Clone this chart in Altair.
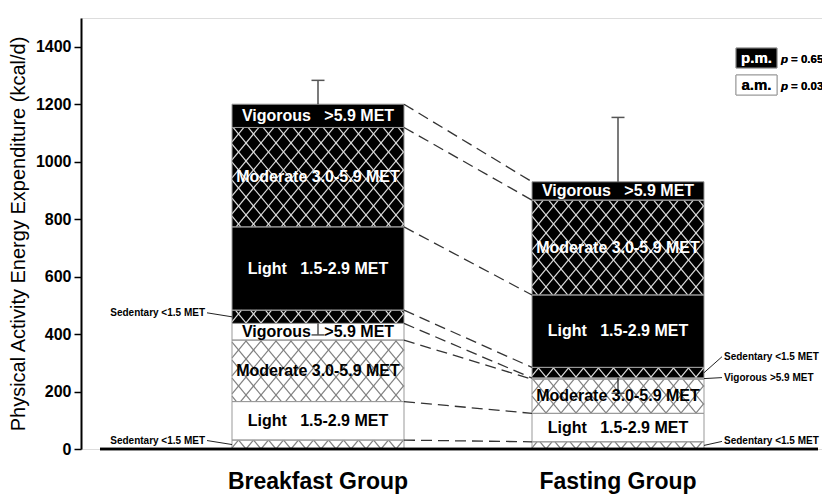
import altair as alt
import numpy as np
import pandas as pd

# ---------------- data ----------------
groups = ["Breakfast Group", "Fasting Group"]
intensity = ["Sedentary", "Light", "Moderate", "Vigorous"]
breakfast_am = [31, 134, 214, 58]
breakfast_pm = [46, 290, 346, 81]
fasting_am = [25, 99, 119, 4]
fasting_pm = [37, 252, 330, 64]
am_sd = [40, 53]
pm_sd = [83, 224]
legend_names = ["p.m.", "a.m."]
p_values = ["0.65", "0.03"]
inside_labels = {
    "Light": "Light\u00a0\u00a0\u00a01.5-2.9 MET",
    "Moderate": "Moderate 3.0-5.9 MET",
    "Vigorous": "Vigorous\u00a0\u00a0\u00a0>5.9 MET",
}
sedentary_label = "Sedentary <1.5 MET"
vigorous_small_label = "Vigorous >5.9 MET"

# ---------------- layout constants ----------------
FONT = "Liberation Sans"
W, H = 741, 431
XMIN, XMAX = -0.79, 1.68
YMAX = 1500
PX = W / (XMAX - XMIN)      # pixels per x unit
PY = H / YMAX               # pixels per kcal
HW = 86 / PX                # half bar width
CAP = 6.5 / PX

xs = alt.Scale(domain=[XMIN, XMAX], nice=False, zero=False)
ys = alt.Scale(domain=[0, YMAX], nice=False, zero=False)

# ---------------- segments ----------------
rows = []
tops = {}
for g, (am, pm) in enumerate([(breakfast_am, breakfast_pm), (fasting_am, fasting_pm)]):
    base = 0
    tops[g] = []
    for period, vals in (("am", am), ("pm", pm)):
        for k, v in zip(intensity, vals):
            rows.append(dict(g=g, x0=g - HW, x1=g + HW, period=period, seg=k,
                             y0=base, y1=base + v, mid=base + v / 2,
                             fill="white" if period == "am" else "black",
                             tcolor="black" if period == "am" else "white",
                             hatched=k in ("Sedentary", "Moderate"),
                             label=inside_labels.get(k, "") if v >= 40 else ""))
            base += v
            tops[g].append(base)
seg_df = pd.DataFrame(rows)
am_tot = [sum(breakfast_am), sum(fasting_am)]
pm_tot = [sum(breakfast_am) + sum(breakfast_pm), sum(fasting_am) + sum(fasting_pm)]

# ---------------- cross-hatch lines (texture derived from segment bounds) ----------------
P = 15.0   # horizontal period in px
S = 1.2    # slope
hatch = []
for r in rows:
    if not r["hatched"]:
        continue
    X0 = (r["x0"] - XMIN) * PX
    X1 = (r["x1"] - XMIN) * PX
    Y0 = r["y0"] * PY
    Y1 = r["y1"] * PY
    col = "#dddddd" if r["period"] == "pm" else "#808080"
    k0 = int(np.floor((X0 - Y1 / S) / P)) - 1
    k1 = int(np.ceil((X1 - Y0 / S) / P)) + 1
    for k in range(k0, k1 + 1):
        xk = k * P
        a = max(X0, xk + Y0 / S)
        b = min(X1, xk + Y1 / S)
        if b - a > 0.3:
            hatch.append(dict(xa=XMIN + a / PX, xb=XMIN + b / PX,
                              ya=S * (a - xk) / PY, yb=S * (b - xk) / PY, col=col))
    k0 = int(np.floor((X0 + Y0 / S) / P)) - 1
    k1 = int(np.ceil((X1 + Y1 / S) / P)) + 1
    for k in range(k0, k1 + 1):
        xk = k * P
        a = max(X0, xk - Y1 / S)
        b = min(X1, xk - Y0 / S)
        if b - a > 0.3:
            hatch.append(dict(xa=XMIN + a / PX, xb=XMIN + b / PX,
                              ya=-S * (a - xk) / PY, yb=-S * (b - xk) / PY, col=col))
hatch_df = pd.DataFrame(hatch)

# ---------------- connectors ----------------
conn_df = pd.DataFrame(dict(xa=[HW] * len(tops[0]), xb=[1 - HW] * len(tops[1]),
                            ya=tops[0], yb=tops[1]))

# ---------------- error bars ----------------
err = []
for g in range(2):
    err.append(dict(g=g, ya=pm_tot[g], yb=pm_tot[g] + pm_sd[g], cx0=g - CAP, cx1=g + CAP))
    err.append(dict(g=g, ya=am_tot[g], yb=am_tot[g] - am_sd[g], cx0=g - CAP, cx1=g + CAP))
err_df = pd.DataFrame(err)

# ---------------- outside annotations ----------------
ann_specs = [  # group, period, segment, side, text, pixel offset
    (0, "pm", "Sedentary", "left", sedentary_label, 4),
    (0, "am", "Sedentary", "left", sedentary_label, 4),
    (1, "pm", "Sedentary", "right", sedentary_label, 16),
    (1, "am", "Vigorous", "right", vigorous_small_label, 1),
    (1, "am", "Sedentary", "right", sedentary_label, 4),
]
ann = []
for g, per, seg, side, txt, off in ann_specs:
    m = seg_df[(seg_df.g == g) & (seg_df.period == per) & (seg_df.seg == seg)].iloc[0]["mid"]
    ly = m + off / PY
    if side == "left":
        edge = g - HW
        ann.append(dict(xa=edge, ya=m, xb=edge - 25 / PX, yb=ly, tx=edge - 27 / PX, ty=ly, text=txt, side=side))
    else:
        edge = g + HW
        ann.append(dict(xa=edge, ya=m, xb=edge + 18 / PX, yb=ly, tx=edge + 20 / PX, ty=ly, text=txt, side=side))
ann_df = pd.DataFrame(ann)

cat_df = pd.DataFrame(dict(g=[0, 1], name=groups))

# ---------------- layers ----------------
bars = alt.Chart(seg_df).mark_rect(strokeWidth=0).encode(
    x=alt.X("x0:Q", scale=xs, axis=None), x2="x1:Q",
    y=alt.Y("y0:Q", scale=ys, axis=alt.Axis(
        values=list(range(0, 1501, 50)),
        labelExpr="datum.value % 200 === 0 ? datum.label : ''",
        format="d",
        tickSize={"condition": {"test": "datum.value % 200 === 0", "value": 7}, "value": 4},
        tickColor="black", tickWidth=1.5, domainColor="black", domainWidth=2,
        labelFont=FONT, labelFontSize=16, labelFontWeight="bold", labelColor="black",
        labelPadding=3, labelOverlap=False, labelFlush=False, grid=False,
        title="Physical Activity Energy Expenditure (kcal/d)",
        titleFont=FONT, titleFontSize=20, titleFontWeight="normal", titleColor="black",
        titlePadding=7)),
    y2="y1:Q",
    fill=alt.Fill("fill:N", scale=None),
)

hatch_layer = alt.Chart(hatch_df).mark_rule(strokeWidth=1.2).encode(
    x=alt.X("xa:Q", scale=xs), x2="xb:Q",
    y=alt.Y("ya:Q", scale=ys), y2="yb:Q",
    color=alt.Color("col:N", scale=None),
)

outlines = alt.Chart(seg_df).mark_rect(fill=None, stroke="#999999", strokeWidth=1).encode(
    x=alt.X("x0:Q", scale=xs), x2="x1:Q",
    y=alt.Y("y0:Q", scale=ys), y2="y1:Q",
)

connectors = alt.Chart(conn_df).mark_rule(color="#333333", strokeWidth=1.3, strokeDash=[11, 6]).encode(
    x=alt.X("xa:Q", scale=xs), x2="xb:Q",
    y=alt.Y("ya:Q", scale=ys), y2="yb:Q",
)

err_v = alt.Chart(err_df).mark_rule(color="#222222", strokeWidth=1.2).encode(
    x=alt.X("g:Q", scale=xs), y=alt.Y("ya:Q", scale=ys), y2="yb:Q",
)
err_c = alt.Chart(err_df).mark_rule(color="#555555", strokeWidth=1.5).encode(
    x=alt.X("cx0:Q", scale=xs), x2="cx1:Q", y=alt.Y("yb:Q", scale=ys),
)

inside_text = alt.Chart(seg_df).transform_filter("datum.label != ''").mark_text(
    font=FONT, fontSize=16, fontWeight="bold", baseline="middle", align="center"
).encode(
    x=alt.X("g:Q", scale=xs), y=alt.Y("mid:Q", scale=ys),
    text="label:N", color=alt.Color("tcolor:N", scale=None),
)

leaders = alt.Chart(ann_df).mark_rule(color="#222222", strokeWidth=1).encode(
    x=alt.X("xa:Q", scale=xs), x2="xb:Q",
    y=alt.Y("ya:Q", scale=ys), y2="yb:Q",
)
ann_left = alt.Chart(ann_df).transform_filter("datum.side == 'left'").mark_text(
    font=FONT, fontSize=10, fontWeight="bold", align="right", baseline="middle", color="black"
).encode(x=alt.X("tx:Q", scale=xs), y=alt.Y("ty:Q", scale=ys), text="text:N")
ann_right = alt.Chart(ann_df).transform_filter("datum.side == 'right'").mark_text(
    font=FONT, fontSize=10, fontWeight="bold", align="left", baseline="middle", color="black"
).encode(x=alt.X("tx:Q", scale=xs), y=alt.Y("ty:Q", scale=ys), text="text:N")

baseline = alt.Chart(cat_df).mark_rule(color="black", strokeWidth=2.5).encode(
    x=alt.value(19), x2=alt.value(737), y=alt.value(H),
)
cat_text = alt.Chart(cat_df).mark_text(
    font=FONT, fontSize=23, fontWeight="bold", baseline="alphabetic", dy=40, color="black"
).encode(x=alt.X("g:Q", scale=xs), y=alt.value(H), text="name:N")

# legend (top right)
legend_layers = []
box_tops = [30, 57]
for i, (nm, pv) in enumerate(zip(legend_names, p_values)):
    t = box_tops[i]
    fill = "black" if i == 0 else "white"
    tc = "white" if i == 0 else "black"
    legend_layers.append(alt.Chart(cat_df).mark_rect(fill=fill, stroke="#999999", strokeWidth=1).encode(
        x=alt.value(655), x2=alt.value(696), y=alt.value(t), y2=alt.value(t + 20)))
    legend_layers.append(alt.Chart(cat_df).mark_text(
        text=nm, font=FONT, fontSize=15, fontWeight="bold", color=tc, align="center", baseline="middle"
    ).encode(x=alt.value(675.5), y=alt.value(t + 10)))
    legend_layers.append(alt.Chart(cat_df).mark_text(
        text="p", font=FONT, fontSize=11.5, fontWeight="bold", fontStyle="italic", color="black",
        align="left", baseline="middle").encode(x=alt.value(700), y=alt.value(t + 12)))
    legend_layers.append(alt.Chart(cat_df).mark_text(
        text="= " + pv, font=FONT, fontSize=11.5, fontWeight="bold", color="black",
        align="left", baseline="middle").encode(x=alt.value(710), y=alt.value(t + 12)))

chart = alt.layer(
    bars, hatch_layer, outlines, connectors, err_v, err_c, inside_text,
    leaders, ann_left, ann_right, baseline, cat_text, *legend_layers
).properties(
    width=W, height=H,
    autosize=alt.AutoSizeParams(type="none"),
    padding={"left": 73, "top": 10, "right": 0, "bottom": 45},
).configure_view(stroke=None).configure(font=FONT)

chart.save("out.html", embed_options={"renderer": "svg", "actions": False})
